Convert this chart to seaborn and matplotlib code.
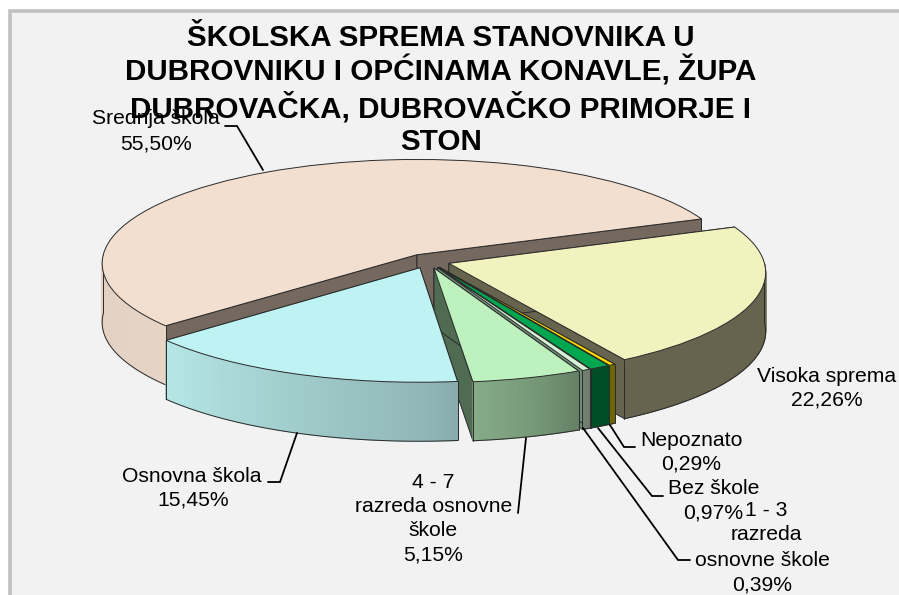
import numpy as np
import matplotlib
matplotlib.use("Agg")
import matplotlib.pyplot as plt
from matplotlib.lines import Line2D
from matplotlib.patches import Rectangle, Polygon
from matplotlib.colors import to_rgb
from matplotlib.transforms import Transform
import seaborn as sns

categories = ["Visoka sprema", "Nepoznato", "Bez škole", "1 - 3 razreda osnovne škole",
              "4 - 7 razreda osnovne škole", "Osnovna škola", "Srednja škola"]
shares = [22.26, 0.29, 0.97, 0.39, 5.15, 15.45, 55.50]
top_colors = ["#F2F2BF", "#FFD800", "#00A650", "#D6F2D6", "#BDF2BF", "#BFF2F2", "#F2DFD0"]
cut_colors = ["#66634E", "#6E6400", "#004D26", "#6F8F78", "#4F6B52", "#6F8C8C", "#75695F"]
paint_order = ["Srednja škola", "Visoka sprema", "Nepoznato", "Bez škole",
               "1 - 3 razreda osnovne škole", "4 - 7 razreda osnovne škole", "Osnovna škola"]
title_lines = ["ŠKOLSKA SPREMA STANOVNIKA U", "DUBROVNIKU I OPĆINAMA KONAVLE, ŽUPA",
               "DUBROVAČKA, DUBROVAČKO PRIMORJE I", "STON"]

W, H = 899, 595
CX, CY, RX, RY, DEPTH_PX = 428, 261, 315, 104, 59
PERSP = 0.081
LINE = "#2A2A2A"

sns.set_theme(style="white")
plt.rcParams["font.family"] = ["Liberation Sans", "DejaVu Sans"]

fig = plt.figure(figsize=(W / 100, H / 100), dpi=100, facecolor="white")
fig.add_artist(Rectangle((10 / W, -0.1), 1, 1.1 - 11.5 / H, transform=fig.transFigure,
                         facecolor="#F2F2F2", edgecolor="#C0C0C0", linewidth=2.6, zorder=-5))
ax = fig.add_axes([0, 0, 1, 1])
ax.patch.set_visible(False)


class Perspective(Transform):
    input_dims = output_dims = 2
    is_separable = False
    has_inverse = False

    def transform_non_affine(self, values):
        v = np.asarray(values, float)
        s = 1 / (1 + PERSP * v[:, 1])
        return np.column_stack([v[:, 0] * s, v[:, 1] * s])


persp = Perspective()


def proj(x, y):
    s = 1 / (1 + PERSP * y)
    return x * s, y * s


palette = sns.color_palette(top_colors)
wedges, _ = ax.pie(shares, colors=palette, startangle=21, counterclock=False, normalize=True,
                   explode=[0.07] * len(shares),
                   wedgeprops=dict(edgecolor=LINE, linewidth=0.7))
ax.set_aspect("auto")
ax.axis("off")
depth = DEPTH_PX / RY


def set_limits():
    ax.set_xlim(-CX / RX, (W - CX) / RX)
    ax.set_ylim((CY - H) / RY, CY / RY)


def shade(theta):
    return np.interp(theta % 360, [180, 222, 270, 287, 296, 302],
                     [.93, .95, .76, .63, .52, .43])


def extrude(wedge, top, cut, z, flat_rim):
    cx, cy = wedge.center
    r = wedge.r
    t1, t2 = wedge.theta1, wedge.theta2

    def rim_pt(t):
        a = np.radians(t)
        return proj(cx + r * np.cos(a), cy + r * np.sin(a))

    ax0, ay0 = proj(cx, cy)
    for t in (t1, t2):
        ex, ey = rim_pt(t)
        ax.add_patch(Polygon([(ax0, ay0), (ex, ey), (ex, ey - depth), (ax0, ay0 - depth)],
                             facecolor=cut, edgecolor=LINE, linewidth=0.7, zorder=z))
    ts = np.linspace(t1, t2, max(3, int(t2 - t1) + 2))
    base = np.array(to_rgb(top))
    front = []
    for a0, a1 in zip(ts[:-1], ts[1:]):
        mid = (a0 + a1) / 2
        if np.sin(np.radians(mid)) > 0:
            continue
        col = to_rgb(cut) if flat_rim else base * shade(mid)
        x0, y0 = rim_pt(a0)
        x1, y1 = rim_pt(a1)
        ax.add_patch(Polygon([(x0, y0), (x1, y1), (x1, y1 - depth), (x0, y0 - depth)],
                             facecolor=col, edgecolor=col, linewidth=0.8, zorder=z + 0.1))
        front += [a0, a1]
    if front:
        front = np.array(front)
        fx, fy = rim_pt(front)
        ax.plot(fx, fy - depth, color=LINE, lw=0.7, zorder=z + 0.2)
        for t in (front.min(), front.max()):
            ex, ey = rim_pt(t)
            ax.plot([ex, ex], [ey, ey - depth], color=LINE, lw=0.7, zorder=z + 0.2)


for i, name in enumerate(paint_order):
    k = categories.index(name)
    z = 2 + i
    extrude(wedges[k], top_colors[k], cut_colors[k], z,
            name in ("Visoka sprema", "Nepoznato", "Bez škole"))
    wedges[k].set_zorder(z + 0.5)
    wedges[k].set_transform(persp + ax.transData)
set_limits()


def put(x, y, s, **kw):
    fig.text(x / W, 1 - y / H, s, ha="center", va="center", color="black", zorder=20, **kw)


def leader(xs, ys):
    fig.add_artist(Line2D(np.array(xs) / W, 1 - np.array(ys) / H, color="black", lw=1.3, zorder=15,
                          solid_joinstyle="miter"))


for y, line in zip([38, 71, 108, 142], title_lines):
    put(441, y, line, fontsize=21.3, fontweight="bold")

labels = [
    (156, 118, "Srednja škola"), (156, 144, "55,50%"),
    (827, 376, "Visoka sprema"), (827, 400, "22,26%"),
    (192, 476, "Osnovna škola"), (193, 500, "15,45%"),
    (433, 482, "4 - 7"), (434, 506, "razreda osnovne"), (433, 531, "škole"), (433, 555, "5,15%"),
    (691, 440, "Nepoznato"), (691, 464, "0,29%"),
    (714, 489, "Bez škole"), (713, 513, "0,97%"),
    (766, 511, "1 - 3"), (766, 535, "razreda"), (762, 560, "osnovne škole"), (762, 585, "0,39%"),
]
for x, y, s in labels:
    put(x, y, s, fontsize=15.2)

leader([225, 237, 263], [126, 126, 170])
leader([268, 280, 297], [482, 482, 433])
leader([518, 526], [513, 438])
leader([635, 624, 610], [447, 447, 425])
leader([663, 652, 598], [496, 496, 428])
leader([690, 678, 583], [560, 560, 428])

fig.savefig("out.png", dpi=100)
